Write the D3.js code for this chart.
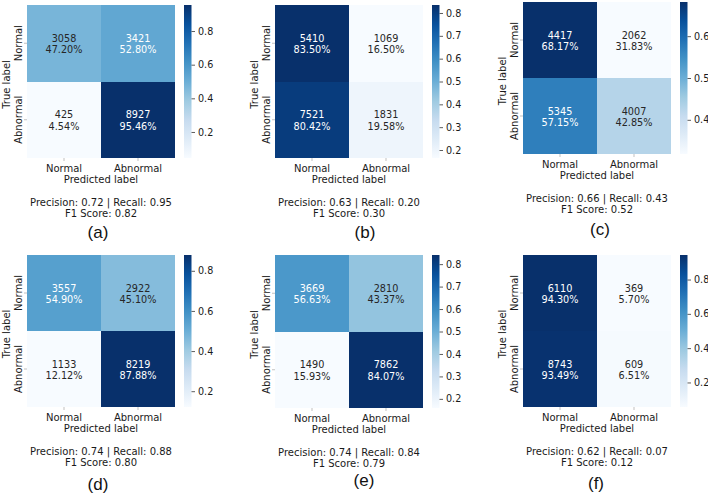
<!DOCTYPE html>
<html><head><meta charset="utf-8">
<script src="https://cdn.jsdelivr.net/npm/d3@7"></script>
<style>body{margin:0;background:#fff}svg{display:block}</style>
</head><body>
<script>
// ---------- data ----------
const panelIds = ["(a)", "(b)", "(c)", "(d)", "(e)", "(f)"];
const classLabels = ["Normal", "Abnormal"];
const countsA = [[3058, 3421], [425, 8927]];
const countsB = [[5410, 1069], [7521, 1831]];
const countsC = [[4417, 2062], [5345, 4007]];
const countsD = [[3557, 2922], [1133, 8219]];
const countsE = [[3669, 2810], [1490, 7862]];
const countsF = [[6110, 369], [8743, 609]];
const percentA = [[47.20, 52.80], [4.54, 95.46]];
const percentB = [[83.50, 16.50], [80.42, 19.58]];
const percentC = [[68.17, 31.83], [57.15, 42.85]];
const percentD = [[54.90, 45.10], [12.12, 87.88]];
const percentE = [[56.63, 43.37], [15.93, 84.07]];
const percentF = [[94.30, 5.70], [93.49, 6.51]];
const precision = [0.72, 0.63, 0.66, 0.74, 0.74, 0.62];
const recall = [0.95, 0.20, 0.43, 0.88, 0.84, 0.07];
const f1Score = [0.82, 0.30, 0.52, 0.80, 0.79, 0.12];
const cbTicksA = [0.2, 0.4, 0.6, 0.8];
const cbTicksB = [0.2, 0.3, 0.4, 0.5, 0.6, 0.7, 0.8];
const cbTicksC = [0.4, 0.5, 0.6];
const cbTicksD = [0.2, 0.4, 0.6, 0.8];
const cbTicksE = [0.2, 0.3, 0.4, 0.5, 0.6, 0.7, 0.8];
const cbTicksF = [0.2, 0.4, 0.6, 0.8];

const allCounts = [countsA, countsB, countsC, countsD, countsE, countsF];
const allPercent = [percentA, percentB, percentC, percentD, percentE, percentF];
const allTicks = [cbTicksA, cbTicksB, cbTicksC, cbTicksD, cbTicksE, cbTicksF];

// ---------- layout (positions only) ----------
const layout = [
  {x0: 27,  y0: 5,   x1: 175, y1: 158, lx: 98,  ly: 238},
  {x0: 275, y0: 5,   x1: 423, y1: 158, lx: 365, ly: 238},
  {x0: 523, y0: 2,   x1: 671, y1: 154, lx: 600, ly: 235},
  {x0: 27,  y0: 255, x1: 175, y1: 407, lx: 98,  ly: 490},
  {x0: 275, y0: 255, x1: 423, y1: 408, lx: 364, ly: 486},
  {x0: 523, y0: 255, x1: 671, y1: 407, lx: 596, ly: 489}
];

const FONT = "DejaVu Sans, sans-serif";
const TXT = "#1a1a1a";
const bluesStops = ['#f7fbff','#deebf7','#c6dbef','#9ecae1','#6baed6','#4292c6','#2171b5','#08519c','#08306b'];
const blues = d3.scaleLinear().domain(d3.range(9).map(i => i / 8)).range(bluesStops)
  .interpolate(d3.interpolateRgb).clamp(true);

function luminance(c) {
  const rgb = d3.rgb(c);
  const f = v => { v /= 255; return v <= 0.03928 ? v / 12.92 : Math.pow((v + 0.055) / 1.055, 2.4); };
  return 0.2126 * f(rgb.r) + 0.7152 * f(rgb.g) + 0.0722 * f(rgb.b);
}

const svg = d3.select("body").append("svg").attr("width", 708).attr("height", 494)
  .style("font-family", FONT);
const defs = svg.append("defs");

panelIds.forEach((pid, p) => {
  const L = layout[p];
  const counts = allCounts[p];
  const perc = allPercent[p];
  const vals = perc.flat().map(v => v / 100);
  const vmin = d3.min(vals), vmax = d3.max(vals);
  const norm = d3.scaleLinear().domain([vmin, vmax]).range([0, 1]);
  const color = v => blues(norm(v));

  const x = d3.scaleBand().domain(classLabels).range([L.x0, L.x1]);
  const y = d3.scaleBand().domain(classLabels).range([L.y0, L.y1]);
  const g = svg.append("g");

  const cells = [];
  classLabels.forEach((r, i) => classLabels.forEach((c, j) => {
    cells.push({row: r, col: c, count: counts[i][j], pct: perc[i][j], v: perc[i][j] / 100});
  }));

  g.selectAll("rect.cell").data(cells).join("rect")
    .attr("x", d => x(d.col)).attr("y", d => y(d.row))
    .attr("width", x.bandwidth()).attr("height", y.bandwidth())
    .attr("fill", d => color(d.v)).attr("shape-rendering", "crispEdges");

  const ann = g.selectAll("text.ann").data(cells).join("text")
    .attr("text-anchor", "middle").style("font-size", "9.7px")
    .attr("fill", d => luminance(color(d.v)) > 0.408 ? "#262626" : "#ffffff");
  ann.append("tspan").attr("x", d => x(d.col) + x.bandwidth() / 2)
    .attr("y", d => y(d.row) + y.bandwidth() / 2 - 1.5).text(d => d.count);
  ann.append("tspan").attr("x", d => x(d.col) + x.bandwidth() / 2)
    .attr("y", d => y(d.row) + y.bandwidth() / 2 + 10).text(d => d.pct.toFixed(2) + "%");

  // x axis
  const xa = g.append("g").attr("transform", `translate(0,${L.y1})`)
    .call(d3.axisBottom(x).tickSize(3).tickPadding(3.5));
  xa.select(".domain").remove();
  xa.selectAll("line").attr("stroke", "#999").attr("stroke-width", 0.6);
  xa.selectAll("text").style("font-size", "10px").style("font-family", FONT).attr("fill", TXT);

  // y axis (rotated labels)
  classLabels.forEach(r => {
    const cy = y(r) + y.bandwidth() / 2;
    g.append("line").attr("x1", L.x0 - 3).attr("x2", L.x0).attr("y1", cy).attr("y2", cy)
      .attr("stroke", "#999").attr("stroke-width", 0.6);
    g.append("text").attr("transform", `translate(${L.x0 - 5.5},${cy}) rotate(-90)`)
      .attr("text-anchor", "middle").style("font-size", "10px").attr("fill", TXT).text(r);
  });

  const cx = (L.x0 + L.x1) / 2, cyM = (L.y0 + L.y1) / 2;
  g.append("text").attr("transform", `translate(${L.x0 - 17},${cyM + 3}) rotate(-90)`)
    .attr("text-anchor", "middle").style("font-size", "10px").attr("fill", TXT).text("True label");
  g.append("text").attr("x", cx).attr("y", L.y1 + 25).attr("text-anchor", "middle")
    .style("font-size", "10px").attr("fill", TXT).text("Predicted label");
  g.append("text").attr("x", cx).attr("y", L.y1 + 47.5).attr("text-anchor", "middle")
    .style("font-size", "10px").attr("fill", TXT)
    .text(`Precision: ${precision[p].toFixed(2)} | Recall: ${recall[p].toFixed(2)}`);
  g.append("text").attr("x", cx).attr("y", L.y1 + 58.5).attr("text-anchor", "middle")
    .style("font-size", "10px").attr("fill", TXT)
    .text(`F1 Score: ${f1Score[p].toFixed(2)}`);
  g.append("text").attr("x", L.lx).attr("y", L.ly).attr("text-anchor", "middle")
    .style("font-size", "17px").style("font-family", "Liberation Sans, Arial, sans-serif")
    .attr("fill", "#111").text(pid);

  // colorbar
  const cbx = L.x1 + 9, cbw = 7.5;
  const cbY = d3.scaleLinear().domain([vmin, vmax]).range([L.y1, L.y0]);
  const gid = "grad" + p;
  const grad = defs.append("linearGradient").attr("id", gid)
    .attr("x1", 0).attr("y1", 1).attr("x2", 0).attr("y2", 0);
  d3.range(0, 1.0001, 1 / 16).forEach(t => {
    grad.append("stop").attr("offset", t).attr("stop-color", blues(t));
  });
  g.append("rect").attr("x", cbx).attr("y", L.y0).attr("width", cbw).attr("height", L.y1 - L.y0)
    .attr("fill", `url(#${gid})`);
  const ca = g.append("g").attr("transform", `translate(${cbx + cbw},0)`)
    .call(d3.axisRight(cbY).tickValues(allTicks[p]).tickSize(3.5).tickPadding(3)
      .tickFormat(d3.format(".1f")));
  ca.select(".domain").remove();
  ca.selectAll("line").attr("stroke", "#333").attr("stroke-width", 0.8);
  ca.selectAll("text").style("font-size", "9.6px").style("font-family", FONT).attr("fill", TXT);
});
</script>
</body></html>
